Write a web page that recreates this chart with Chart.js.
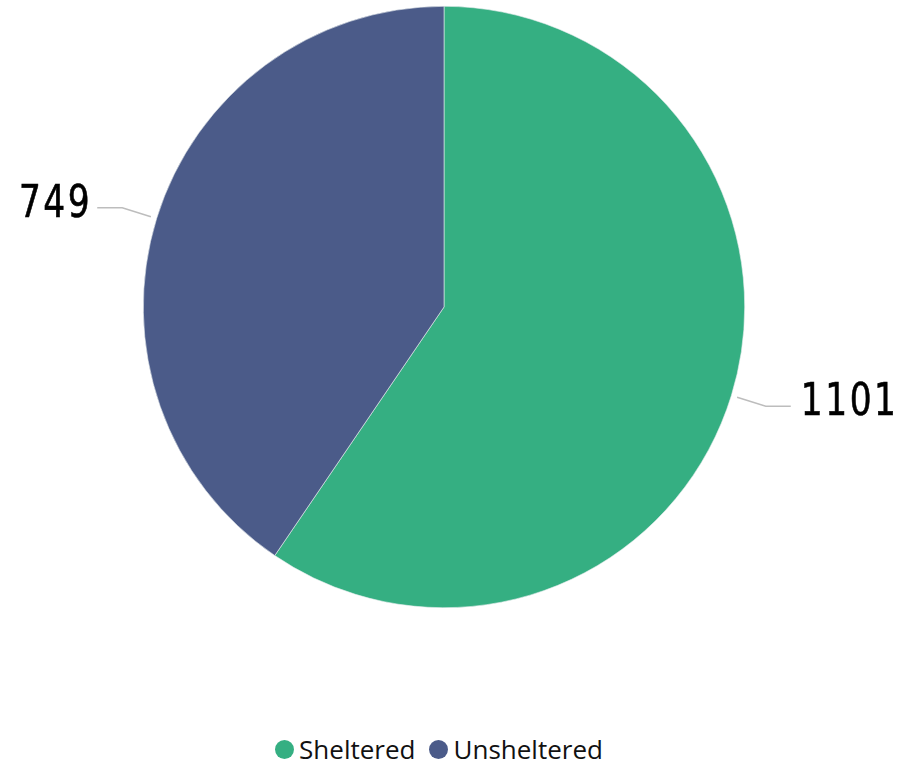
<!DOCTYPE html>
<html>
<head>
<meta charset="utf-8">
<script src="https://cdn.jsdelivr.net/npm/chart.js@4.4.1/dist/chart.umd.min.js"></script>
<style>
  html, body { margin: 0; padding: 0; background: #fff; }
  #wrap { position: relative; width: 902px; height: 769px; }
  #caixaGrafico { position: absolute; left: 0; top: 0; width: 902px; height: 608px; }
  #legenda {
    position: absolute; left: 0; top: 731px; width: 878px;
    display: flex; justify-content: center; align-items: center;
    font-family: 'Open Sans', sans-serif; font-size: 26px; color: #111;
  }
  .item { display: flex; align-items: center; margin: 0 7px; }
  .bolinha { width: 19px; height: 19px; border-radius: 50%; margin-right: 5px; }
</style>
</head>
<body>
<div id="wrap">
  <div id="caixaGrafico"><canvas id="graficoPizza"></canvas></div>
  <div id="legenda"></div>
</div>
<script>
// dados do gráfico
const categorias = ['Sheltered', 'Unsheltered'];
const valores = [1101, 749];
const cores = ['#35af82', '#4b5b89'];

// legenda em HTML
const legenda = document.getElementById('legenda');
categorias.forEach((nome, i) => {
    legenda.innerHTML += `<span class="item"><span class="bolinha" style="background:${cores[i]}"></span>${nome}</span>`;
});

// rótulos com linha guia
const rotulosExternos = {
    id: 'rotulosExternos',
    afterDatasetsDraw(chart) {
        const ctx = chart.ctx;
        const meta = chart.getDatasetMeta(0);
        meta.data.forEach((arco, i) => {
            const { x, y, outerRadius, startAngle, endAngle } = arco.getProps(['x', 'y', 'outerRadius', 'startAngle', 'endAngle'], true);
            const meio = (startAngle + endAngle) / 2;
            const cx = Math.cos(meio), cy = Math.sin(meio);
            const x1 = x + cx * (outerRadius + 6), y1 = y + cy * (outerRadius + 6);
            const x2 = x + cx * (outerRadius + 36), y2 = y + cy * (outerRadius + 36);
            const lado = cx >= 0 ? 1 : -1;
            const x3 = x2 + lado * 25;
            ctx.save();
            ctx.strokeStyle = '#bdbdbd';
            ctx.lineWidth = 1.5;
            ctx.beginPath();
            ctx.moveTo(x1, y1);
            ctx.lineTo(x2, y2);
            ctx.lineTo(x3, y2);
            ctx.stroke();
            ctx.restore();

            // texto um pouco condensado (o espaçamento sobra no fim, compensa à esquerda)
            const deslocamento = lado > 0 ? 10 : -5;
            ctx.save();
            ctx.translate(x3 + deslocamento, y2 - 3);
            ctx.scale(0.85, 1);
            ctx.fillStyle = '#000';
            ctx.strokeStyle = '#000';
            ctx.lineWidth = 0.6;
            ctx.letterSpacing = '3px';
            ctx.font = "45px 'DejaVu Sans Condensed', 'DejaVu Sans', sans-serif";
            ctx.textBaseline = 'middle';
            ctx.textAlign = lado > 0 ? 'left' : 'right';
            ctx.fillText(String(valores[i]), 0, 0);
            ctx.strokeText(String(valores[i]), 0, 0);
            ctx.restore();
        });
    }
};

new Chart(document.getElementById('graficoPizza'), {
    type: 'pie',
    data: {
        labels: categorias,
        datasets: [{
            data: valores,
            backgroundColor: cores,
            borderColor: '#e8ecef',
            borderWidth: 0.6
        }]
    },
    options: {
        responsive: true,
        maintainAspectRatio: false,
        animation: false,
        layout: { padding: { top: 6, right: 14, left: 0, bottom: 0 } },
        plugins: {
            legend: { display: false },
            tooltip: { enabled: false }
        }
    },
    plugins: [rotulosExternos]
});
</script>
</body>
</html>
